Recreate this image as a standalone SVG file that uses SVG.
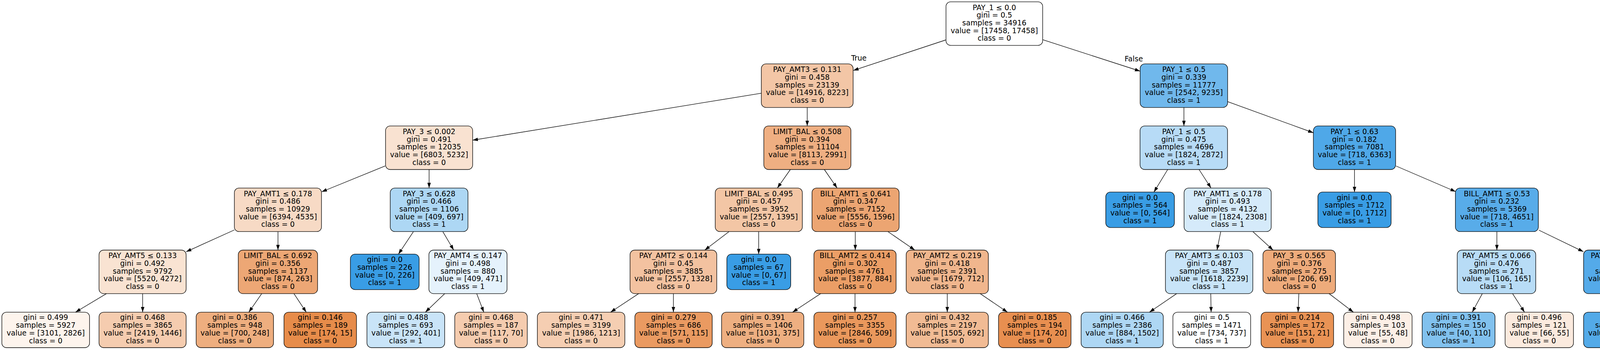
<svg xmlns="http://www.w3.org/2000/svg" width="4472" height="895" viewBox="0 0 4472 895">
<style>
.n rect{stroke:#000;stroke-width:1.33}
text{font-family:"DejaVu Sans","Liberation Sans",sans-serif;font-size:18.67px;fill:#000;text-anchor:middle}
.e line{stroke:#000;stroke-width:1.33;fill:none;marker-end:url(#arr)}
</style>
<defs>
<marker id="arr" markerWidth="15" markerHeight="10" refX="13.33" refY="4.45" orient="auto" markerUnits="userSpaceOnUse" overflow="visible">
<path d="M0,0 L13.33,4.45 L0,8.9 z" fill="#000"/>
</marker>
</defs>
<rect width="4472" height="895" fill="#fff"/>
<g id="edges" class="e">
<line x1="2421.6" y1="102" x2="2184.5" y2="180.2"/>
<line x1="2669" y1="101.3" x2="2918.7" y2="182"/>
<line x1="1949" y1="238.4" x2="1210" y2="358.5"/>
<line x1="2066.5" y1="274.8" x2="2066.5" y2="322.1"/>
<line x1="3030.8" y1="274.8" x2="3030.8" y2="322.1"/>
<line x1="3142.7" y1="259.8" x2="3362.2" y2="339.5"/>
<line x1="986" y1="424.3" x2="823.5" y2="490.5"/>
<line x1="1098.5" y1="433.5" x2="1098.5" y2="480.8"/>
<line x1="2023.3" y1="433.5" x2="1990" y2="480.8"/>
<line x1="2110.3" y1="433.5" x2="2143" y2="480.8"/>
<line x1="2989.3" y1="433.5" x2="2954.1" y2="491.15"/>
<line x1="3069.6" y1="433.5" x2="3100.2" y2="480.8"/>
<line x1="3467.5" y1="433.5" x2="3467.5" y2="491.15"/>
<line x1="3573.8" y1="424.5" x2="3726.5" y2="490"/>
<line x1="600" y1="588" x2="476.5" y2="643.8"/>
<line x1="711.6" y1="592.2" x2="711.6" y2="639.5"/>
<line x1="1058.5" y1="592.2" x2="1020" y2="649.85"/>
<line x1="1133.5" y1="592.2" x2="1161.5" y2="639.5"/>
<line x1="1866.4" y1="592.2" x2="1804.2" y2="639.5"/>
<line x1="1942.3" y1="592.2" x2="1942.3" y2="649.85"/>
<line x1="2189.5" y1="592.2" x2="2189.5" y2="639.5"/>
<line x1="2273" y1="592.2" x2="2341.9" y2="639.5"/>
<line x1="3125.1" y1="592.2" x2="3115.5" y2="639.5"/>
<line x1="3207.3" y1="592.2" x2="3259" y2="639.5"/>
<line x1="3832" y1="592.2" x2="3832" y2="639.5"/>
<line x1="3939.5" y1="588.5" x2="4053.5" y2="643.6"/>
<line x1="272.5" y1="750.9" x2="193.3" y2="798.3"/>
<line x1="365.2" y1="750.9" x2="365.2" y2="798.3"/>
<line x1="670" y1="750.9" x2="637" y2="798.3"/>
<line x1="752.5" y1="750.9" x2="784" y2="798.3"/>
<line x1="1138.4" y1="750.9" x2="1089" y2="798.3"/>
<line x1="1220.4" y1="750.9" x2="1238.5" y2="798.3"/>
<line x1="1634.9" y1="750.9" x2="1563.1" y2="798.3"/>
<line x1="1723.9" y1="750.9" x2="1723.9" y2="798.3"/>
<line x1="2100.8" y1="750.9" x2="2029" y2="798.3"/>
<line x1="2188.8" y1="750.9" x2="2188.8" y2="798.3"/>
<line x1="2425" y1="750.9" x2="2425" y2="798.3"/>
<line x1="2509.3" y1="750.9" x2="2579.1" y2="798.3"/>
<line x1="3012.2" y1="750.9" x2="2942.6" y2="798.3"/>
<line x1="3099.5" y1="750.9" x2="3100.5" y2="798.3"/>
<line x1="3325" y1="750.9" x2="3323.1" y2="798.3"/>
<line x1="3402.5" y1="750.9" x2="3464.7" y2="798.3"/>
<line x1="3794.7" y1="750.9" x2="3768.9" y2="798.3"/>
<line x1="3872.2" y1="750.9" x2="3902.8" y2="798.3"/>
<line x1="4160" y1="750.9" x2="4160" y2="798.3"/>
<line x1="4243.4" y1="750.9" x2="4309.4" y2="798.3"/>
<text x="2198.7" y="155">True</text>
<text x="2902.5" y="156.7">False</text>
</g>
<g id="node0" class="n"><rect x="2421.7" y="4.7" width="247.6" height="111.4" rx="12" fill="#ffffff"/><text x="2545.5" y="25.5">PAY_1 ≤ 0.0<tspan x="2545.5" dy="19.7">gini = 0.5</tspan><tspan x="2545.5" dy="19.7">samples = 34916</tspan><tspan x="2545.5" dy="19.7">value = [17458, 17458]</tspan><tspan x="2545.5" dy="19.7">class = 0</tspan></text></g>
<g id="node1" class="n"><rect x="1949" y="163.4" width="235" height="111.4" rx="12" fill="#f3c6a6"/><text x="2066.5" y="184.2">PAY_AMT3 ≤ 0.131<tspan x="2066.5" dy="19.7">gini = 0.458</tspan><tspan x="2066.5" dy="19.7">samples = 23139</tspan><tspan x="2066.5" dy="19.7">value = [14916, 8223]</tspan><tspan x="2066.5" dy="19.7">class = 0</tspan></text></g>
<g id="node28" class="n"><rect x="2918.7" y="163.4" width="224" height="111.4" rx="12" fill="#70b8ec"/><text x="3030.7" y="184.2">PAY_1 ≤ 0.5<tspan x="3030.7" dy="19.7">gini = 0.339</tspan><tspan x="3030.7" dy="19.7">samples = 11777</tspan><tspan x="3030.7" dy="19.7">value = [2542, 9235]</tspan><tspan x="3030.7" dy="19.7">class = 1</tspan></text></g>
<g id="node2" class="n"><rect x="987" y="322.1" width="223" height="111.4" rx="12" fill="#f9e2d1"/><text x="1098.5" y="342.9">PAY_3 ≤ 0.002<tspan x="1098.5" dy="19.7">gini = 0.491</tspan><tspan x="1098.5" dy="19.7">samples = 12035</tspan><tspan x="1098.5" dy="19.7">value = [6803, 5232]</tspan><tspan x="1098.5" dy="19.7">class = 0</tspan></text></g>
<g id="node15" class="n"><rect x="1955.4" y="322.1" width="223" height="111.4" rx="12" fill="#efaf82"/><text x="2066.9" y="342.9">LIMIT_BAL ≤ 0.508<tspan x="2066.9" dy="19.7">gini = 0.394</tspan><tspan x="2066.9" dy="19.7">samples = 11104</tspan><tspan x="2066.9" dy="19.7">value = [8113, 2991]</tspan><tspan x="2066.9" dy="19.7">class = 0</tspan></text></g>
<g id="node29" class="n"><rect x="2918.5" y="322.1" width="224" height="111.4" rx="12" fill="#b7dbf6"/><text x="3030.5" y="342.9">PAY_1 ≤ 0.5<tspan x="3030.5" dy="19.7">gini = 0.475</tspan><tspan x="3030.5" dy="19.7">samples = 4696</tspan><tspan x="3030.5" dy="19.7">value = [1824, 2872]</tspan><tspan x="3030.5" dy="19.7">class = 1</tspan></text></g>
<g id="node38" class="n"><rect x="3362.25" y="322.1" width="210.5" height="111.4" rx="12" fill="#4fa8e8"/><text x="3467.5" y="342.9">PAY_1 ≤ 0.63<tspan x="3467.5" dy="19.7">gini = 0.182</tspan><tspan x="3467.5" dy="19.7">samples = 7081</tspan><tspan x="3467.5" dy="19.7">value = [718, 6363]</tspan><tspan x="3467.5" dy="19.7">class = 1</tspan></text></g>
<g id="node3" class="n"><rect x="600" y="480.8" width="223" height="111.4" rx="12" fill="#f7dac5"/><text x="711.5" y="501.6">PAY_AMT1 ≤ 0.178<tspan x="711.5" dy="19.7">gini = 0.486</tspan><tspan x="711.5" dy="19.7">samples = 10929</tspan><tspan x="711.5" dy="19.7">value = [6394, 4535]</tspan><tspan x="711.5" dy="19.7">class = 0</tspan></text></g>
<g id="node10" class="n"><rect x="999" y="480.8" width="199" height="111.4" rx="12" fill="#add7f4"/><text x="1098.5" y="501.6">PAY_3 ≤ 0.628<tspan x="1098.5" dy="19.7">gini = 0.466</tspan><tspan x="1098.5" dy="19.7">samples = 1106</tspan><tspan x="1098.5" dy="19.7">value = [409, 697]</tspan><tspan x="1098.5" dy="19.7">class = 1</tspan></text></g>
<g id="node16" class="n"><rect x="1831" y="480.8" width="223" height="111.4" rx="12" fill="#f3c6a5"/><text x="1942.5" y="501.6">LIMIT_BAL ≤ 0.495<tspan x="1942.5" dy="19.7">gini = 0.457</tspan><tspan x="1942.5" dy="19.7">samples = 3952</tspan><tspan x="1942.5" dy="19.7">value = [2557, 1395]</tspan><tspan x="1942.5" dy="19.7">class = 0</tspan></text></g>
<g id="node21" class="n"><rect x="2078.7" y="480.8" width="223" height="111.4" rx="12" fill="#eca572"/><text x="2190.2" y="501.6">BILL_AMT1 ≤ 0.641<tspan x="2190.2" dy="19.7">gini = 0.347</tspan><tspan x="2190.2" dy="19.7">samples = 7152</tspan><tspan x="2190.2" dy="19.7">value = [5556, 1596]</tspan><tspan x="2190.2" dy="19.7">class = 0</tspan></text></g>
<g id="node30" class="n"><rect x="2830.75" y="491.15" width="175.7" height="90.7" rx="12" fill="#399de5"/><text x="2918.6" y="511.5">gini = 0.0<tspan x="2918.6" dy="19.7">samples = 564</tspan><tspan x="2918.6" dy="19.7">value = [0, 564]</tspan><tspan x="2918.6" dy="19.7">class = 1</tspan></text></g>
<g id="node31" class="n"><rect x="3031.3" y="480.8" width="223" height="111.4" rx="12" fill="#d5eafa"/><text x="3142.8" y="501.6">PAY_AMT1 ≤ 0.178<tspan x="3142.8" dy="19.7">gini = 0.493</tspan><tspan x="3142.8" dy="19.7">samples = 4132</tspan><tspan x="3142.8" dy="19.7">value = [1824, 2308]</tspan><tspan x="3142.8" dy="19.7">class = 1</tspan></text></g>
<g id="node39" class="n"><rect x="3373.75" y="491.15" width="187.5" height="90.7" rx="12" fill="#399de5"/><text x="3467.5" y="511.5">gini = 0.0<tspan x="3467.5" dy="19.7">samples = 1712</tspan><tspan x="3467.5" dy="19.7">value = [0, 1712]</tspan><tspan x="3467.5" dy="19.7">class = 1</tspan></text></g>
<g id="node40" class="n"><rect x="3725.8" y="480.8" width="212.4" height="111.4" rx="12" fill="#58ace9"/><text x="3832" y="501.6">BILL_AMT1 ≤ 0.53<tspan x="3832" dy="19.7">gini = 0.232</tspan><tspan x="3832" dy="19.7">samples = 5369</tspan><tspan x="3832" dy="19.7">value = [718, 4651]</tspan><tspan x="3832" dy="19.7">class = 1</tspan></text></g>
<g id="node4" class="n"><rect x="253.5" y="639.5" width="223" height="111.4" rx="12" fill="#f9e3d2"/><text x="365" y="660.3">PAY_AMT5 ≤ 0.133<tspan x="365" dy="19.7">gini = 0.492</tspan><tspan x="365" dy="19.7">samples = 9792</tspan><tspan x="365" dy="19.7">value = [5520, 4272]</tspan><tspan x="365" dy="19.7">class = 0</tspan></text></g>
<g id="node7" class="n"><rect x="610" y="639.5" width="203" height="111.4" rx="12" fill="#eda775"/><text x="711.5" y="660.3">LIMIT_BAL ≤ 0.692<tspan x="711.5" dy="19.7">gini = 0.356</tspan><tspan x="711.5" dy="19.7">samples = 1137</tspan><tspan x="711.5" dy="19.7">value = [874, 263]</tspan><tspan x="711.5" dy="19.7">class = 0</tspan></text></g>
<g id="node11" class="n"><rect x="897" y="649.85" width="176" height="90.7" rx="12" fill="#399de5"/><text x="985" y="670.2">gini = 0.0<tspan x="985" dy="19.7">samples = 226</tspan><tspan x="985" dy="19.7">value = [0, 226]</tspan><tspan x="985" dy="19.7">class = 1</tspan></text></g>
<g id="node12" class="n"><rect x="1098" y="639.5" width="200" height="111.4" rx="12" fill="#e5f2fc"/><text x="1198" y="660.3">PAY_AMT4 ≤ 0.147<tspan x="1198" dy="19.7">gini = 0.498</tspan><tspan x="1198" dy="19.7">samples = 880</tspan><tspan x="1198" dy="19.7">value = [409, 471]</tspan><tspan x="1198" dy="19.7">class = 1</tspan></text></g>
<g id="node17" class="n"><rect x="1612.9" y="639.5" width="222" height="111.4" rx="12" fill="#f3c2a0"/><text x="1723.9" y="660.3">PAY_AMT2 ≤ 0.144<tspan x="1723.9" dy="19.7">gini = 0.45</tspan><tspan x="1723.9" dy="19.7">samples = 3885</tspan><tspan x="1723.9" dy="19.7">value = [2557, 1328]</tspan><tspan x="1723.9" dy="19.7">class = 0</tspan></text></g>
<g id="node20" class="n"><rect x="1860.7" y="649.85" width="163.6" height="90.7" rx="12" fill="#399de5"/><text x="1942.5" y="670.2">gini = 0.0<tspan x="1942.5" dy="19.7">samples = 67</tspan><tspan x="1942.5" dy="19.7">value = [0, 67]</tspan><tspan x="1942.5" dy="19.7">class = 1</tspan></text></g>
<g id="node22" class="n"><rect x="2083.6" y="639.5" width="210.4" height="111.4" rx="12" fill="#eb9e66"/><text x="2188.8" y="660.3">BILL_AMT2 ≤ 0.414<tspan x="2188.8" dy="19.7">gini = 0.302</tspan><tspan x="2188.8" dy="19.7">samples = 4761</tspan><tspan x="2188.8" dy="19.7">value = [3877, 884]</tspan><tspan x="2188.8" dy="19.7">class = 0</tspan></text></g>
<g id="node25" class="n"><rect x="2319.8" y="639.5" width="210.4" height="111.4" rx="12" fill="#f0b68d"/><text x="2425" y="660.3">PAY_AMT2 ≤ 0.219<tspan x="2425" dy="19.7">gini = 0.418</tspan><tspan x="2425" dy="19.7">samples = 2391</tspan><tspan x="2425" dy="19.7">value = [1679, 712]</tspan><tspan x="2425" dy="19.7">class = 0</tspan></text></g>
<g id="node32" class="n"><rect x="2983.5" y="639.5" width="223.8" height="111.4" rx="12" fill="#c8e4f8"/><text x="3095.4" y="660.3">PAY_AMT3 ≤ 0.103<tspan x="3095.4" dy="19.7">gini = 0.487</tspan><tspan x="3095.4" dy="19.7">samples = 3857</tspan><tspan x="3095.4" dy="19.7">value = [1618, 2239]</tspan><tspan x="3095.4" dy="19.7">class = 1</tspan></text></g>
<g id="node35" class="n"><rect x="3233.2" y="639.5" width="185.6" height="111.4" rx="12" fill="#eeab7b"/><text x="3326" y="660.3">PAY_3 ≤ 0.565<tspan x="3326" dy="19.7">gini = 0.376</tspan><tspan x="3326" dy="19.7">samples = 275</tspan><tspan x="3326" dy="19.7">value = [206, 69]</tspan><tspan x="3326" dy="19.7">class = 0</tspan></text></g>
<g id="node41" class="n"><rect x="3730.5" y="639.5" width="201" height="111.4" rx="12" fill="#b8dcf6"/><text x="3831" y="660.3">PAY_AMT5 ≤ 0.066<tspan x="3831" dy="19.7">gini = 0.476</tspan><tspan x="3831" dy="19.7">samples = 271</tspan><tspan x="3831" dy="19.7">value = [106, 165]</tspan><tspan x="3831" dy="19.7">class = 1</tspan></text></g>
<g id="node44" class="n"><rect x="4054" y="639.5" width="211.4" height="111.4" rx="12" fill="#54aae9"/><text x="4159.7" y="660.3">PAY_AMT5 ≤ 0.303<tspan x="4159.7" dy="19.7">gini = 0.211</tspan><tspan x="4159.7" dy="19.7">samples = 5098</tspan><tspan x="4159.7" dy="19.7">value = [612, 4486]</tspan><tspan x="4159.7" dy="19.7">class = 1</tspan></text></g>
<g id="node5" class="n"><rect x="4.7" y="798.3" width="224.6" height="90.7" rx="12" fill="#fdf4ed"/><text x="117" y="818.4">gini = 0.499<tspan x="117" dy="19.7">samples = 5927</tspan><tspan x="117" dy="19.7">value = [3101, 2826]</tspan><tspan x="117" dy="19.7">class = 0</tspan></text></g>
<g id="node6" class="n"><rect x="253.5" y="798.3" width="223" height="90.7" rx="12" fill="#f5ccaf"/><text x="365" y="818.4">gini = 0.468<tspan x="365" dy="19.7">samples = 3865</tspan><tspan x="365" dy="19.7">value = [2419, 1446]</tspan><tspan x="365" dy="19.7">class = 0</tspan></text></g>
<g id="node8" class="n"><rect x="502.2" y="798.3" width="198" height="90.7" rx="12" fill="#eeae7f"/><text x="601.2" y="818.4">gini = 0.386<tspan x="601.2" dy="19.7">samples = 948</tspan><tspan x="601.2" dy="19.7">value = [700, 248]</tspan><tspan x="601.2" dy="19.7">class = 0</tspan></text></g>
<g id="node9" class="n"><rect x="727" y="798.3" width="185.6" height="90.7" rx="12" fill="#e78c4a"/><text x="819.8" y="818.4">gini = 0.146<tspan x="819.8" dy="19.7">samples = 189</tspan><tspan x="819.8" dy="19.7">value = [174, 15]</tspan><tspan x="819.8" dy="19.7">class = 0</tspan></text></g>
<g id="node13" class="n"><rect x="939.4" y="798.3" width="199" height="90.7" rx="12" fill="#c9e4f8"/><text x="1038.9" y="818.4">gini = 0.488<tspan x="1038.9" dy="19.7">samples = 693</tspan><tspan x="1038.9" dy="19.7">value = [292, 401]</tspan><tspan x="1038.9" dy="19.7">class = 1</tspan></text></g>
<g id="node14" class="n"><rect x="1164.2" y="798.3" width="185.6" height="90.7" rx="12" fill="#f5ccaf"/><text x="1257" y="818.4">gini = 0.468<tspan x="1257" dy="19.7">samples = 187</tspan><tspan x="1257" dy="19.7">value = [117, 70]</tspan><tspan x="1257" dy="19.7">class = 0</tspan></text></g>
<g id="node18" class="n"><rect x="1375.6" y="798.3" width="224" height="90.7" rx="12" fill="#f5ceb2"/><text x="1487.6" y="818.4">gini = 0.471<tspan x="1487.6" dy="19.7">samples = 3199</tspan><tspan x="1487.6" dy="19.7">value = [1986, 1213]</tspan><tspan x="1487.6" dy="19.7">class = 0</tspan></text></g>
<g id="node19" class="n"><rect x="1625.3" y="798.3" width="198" height="90.7" rx="12" fill="#ea9a61"/><text x="1724.3" y="818.4">gini = 0.279<tspan x="1724.3" dy="19.7">samples = 686</tspan><tspan x="1724.3" dy="19.7">value = [571, 115]</tspan><tspan x="1724.3" dy="19.7">class = 0</tspan></text></g>
<g id="node23" class="n"><rect x="1847.3" y="798.3" width="210.4" height="90.7" rx="12" fill="#eeaf81"/><text x="1952.5" y="818.4">gini = 0.391<tspan x="1952.5" dy="19.7">samples = 1406</tspan><tspan x="1952.5" dy="19.7">value = [1031, 375]</tspan><tspan x="1952.5" dy="19.7">class = 0</tspan></text></g>
<g id="node24" class="n"><rect x="2083.6" y="798.3" width="210.4" height="90.7" rx="12" fill="#ea985c"/><text x="2188.8" y="818.4">gini = 0.257<tspan x="2188.8" dy="19.7">samples = 3355</tspan><tspan x="2188.8" dy="19.7">value = [2846, 509]</tspan><tspan x="2188.8" dy="19.7">class = 0</tspan></text></g>
<g id="node26" class="n"><rect x="2319.8" y="798.3" width="210.4" height="90.7" rx="12" fill="#f1bb94"/><text x="2425" y="818.4">gini = 0.432<tspan x="2425" dy="19.7">samples = 2197</tspan><tspan x="2425" dy="19.7">value = [1505, 692]</tspan><tspan x="2425" dy="19.7">class = 0</tspan></text></g>
<g id="node27" class="n"><rect x="2556.25" y="798.3" width="185.5" height="90.7" rx="12" fill="#e88f50"/><text x="2649" y="818.4">gini = 0.185<tspan x="2649" dy="19.7">samples = 194</tspan><tspan x="2649" dy="19.7">value = [174, 20]</tspan><tspan x="2649" dy="19.7">class = 0</tspan></text></g>
<g id="node33" class="n"><rect x="2767.6" y="798.3" width="210.4" height="90.7" rx="12" fill="#aed7f4"/><text x="2872.8" y="818.4">gini = 0.466<tspan x="2872.8" dy="19.7">samples = 2386</tspan><tspan x="2872.8" dy="19.7">value = [884, 1502]</tspan><tspan x="2872.8" dy="19.7">class = 1</tspan></text></g>
<g id="node34" class="n"><rect x="3002.6" y="798.3" width="199" height="90.7" rx="12" fill="#feffff"/><text x="3102.1" y="818.4">gini = 0.5<tspan x="3102.1" dy="19.7">samples = 1471</tspan><tspan x="3102.1" dy="19.7">value = [734, 737]</tspan><tspan x="3102.1" dy="19.7">class = 1</tspan></text></g>
<g id="node36" class="n"><rect x="3228.4" y="798.3" width="185.6" height="90.7" rx="12" fill="#e99355"/><text x="3321.2" y="818.4">gini = 0.214<tspan x="3321.2" dy="19.7">samples = 172</tspan><tspan x="3321.2" dy="19.7">value = [151, 21]</tspan><tspan x="3321.2" dy="19.7">class = 0</tspan></text></g>
<g id="node37" class="n"><rect x="3439.9" y="798.3" width="175" height="90.7" rx="12" fill="#fcefe6"/><text x="3527.4" y="818.4">gini = 0.498<tspan x="3527.4" dy="19.7">samples = 103</tspan><tspan x="3527.4" dy="19.7">value = [55, 48]</tspan><tspan x="3527.4" dy="19.7">class = 0</tspan></text></g>
<g id="node42" class="n"><rect x="3640.7" y="798.3" width="186.6" height="90.7" rx="12" fill="#81c1ee"/><text x="3734" y="818.4">gini = 0.391<tspan x="3734" dy="19.7">samples = 150</tspan><tspan x="3734" dy="19.7">value = [40, 110]</tspan><tspan x="3734" dy="19.7">class = 1</tspan></text></g>
<g id="node43" class="n"><rect x="3853.1" y="798.3" width="175" height="90.7" rx="12" fill="#fbeade"/><text x="3940.6" y="818.4">gini = 0.496<tspan x="3940.6" dy="19.7">samples = 121</tspan><tspan x="3940.6" dy="19.7">value = [66, 55]</tspan><tspan x="3940.6" dy="19.7">class = 0</tspan></text></g>
<g id="node45" class="n"><rect x="4054" y="798.3" width="211.4" height="90.7" rx="12" fill="#53aae8"/><text x="4159.7" y="818.4">gini = 0.203<tspan x="4159.7" dy="19.7">samples = 4981</tspan><tspan x="4159.7" dy="19.7">value = [572, 4409]</tspan><tspan x="4159.7" dy="19.7">class = 1</tspan></text></g>
<g id="node46" class="n"><rect x="4291.3" y="798.3" width="175" height="90.7" rx="12" fill="#a0d0f2"/><text x="4378.8" y="818.4">gini = 0.45<tspan x="4378.8" dy="19.7">samples = 117</tspan><tspan x="4378.8" dy="19.7">value = [40, 77]</tspan><tspan x="4378.8" dy="19.7">class = 1</tspan></text></g>
</svg>
